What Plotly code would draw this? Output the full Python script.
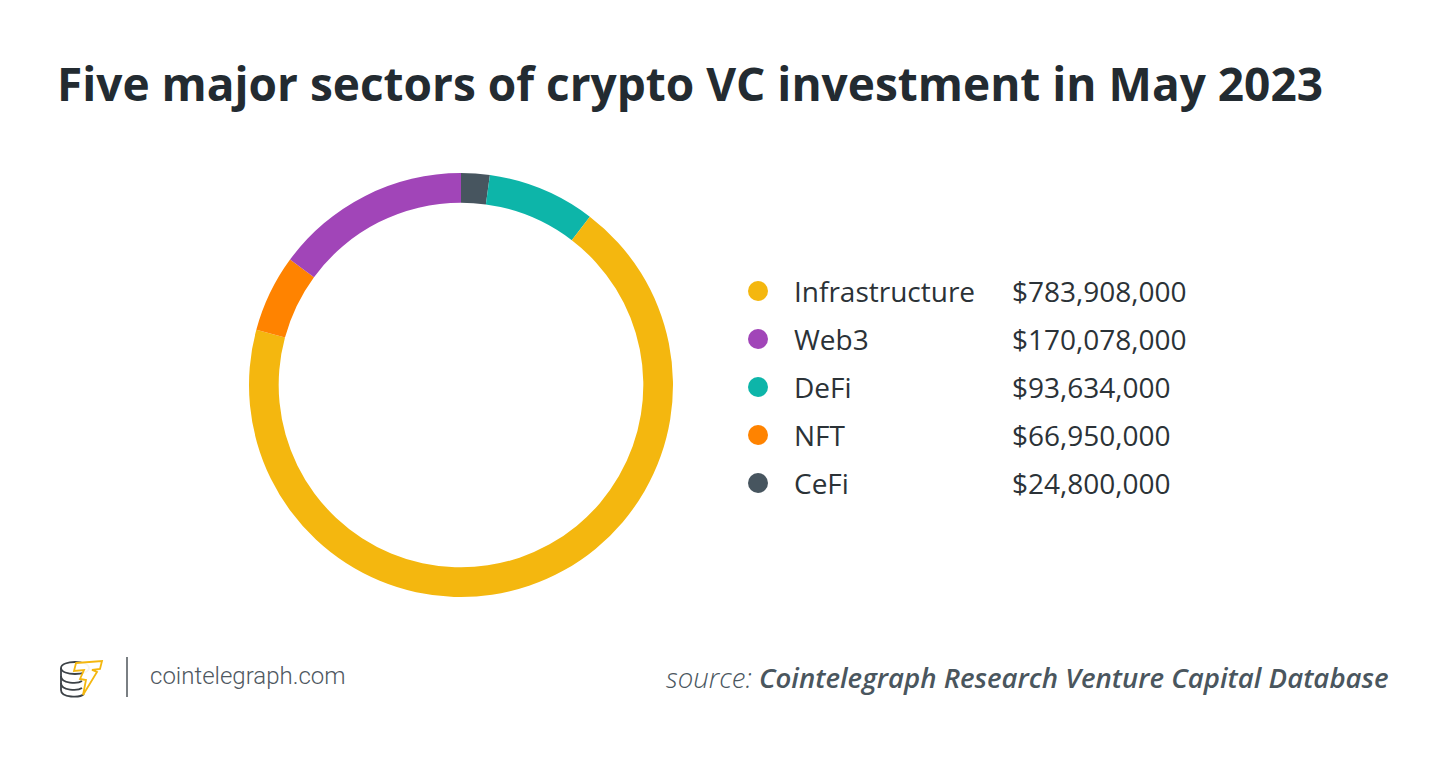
import plotly.graph_objects as go

W, H = 1450, 757

# slice order around the ring (clockwise from 12 o'clock)
ring_labels = ["CeFi", "DeFi", "Infrastructure", "NFT", "Web3"]
ring_values = [24800000, 93634000, 783908000, 66950000, 170078000]

# legend order
legend_labels = ["Infrastructure", "Web3", "DeFi", "NFT", "CeFi"]
legend_values = [783908000, 170078000, 93634000, 66950000, 24800000]

colors = {
    "Infrastructure": "#F4B70F",
    "Web3": "#A145B8",
    "DeFi": "#0DB5A9",
    "NFT": "#FF8300",
    "CeFi": "#47555F",
}

TEXT = "#2B3237"


def px_x(x):
    return x / W


def px_y(y):
    return 1 - y / H


fig = go.Figure()

fig.add_trace(go.Pie(
    labels=ring_labels,
    values=ring_values,
    hole=0.86,
    sort=False,
    direction="clockwise",
    rotation=0,
    marker=dict(colors=[colors[l] for l in ring_labels], line=dict(width=0)),
    textinfo="none",
    hoverinfo="label+value",
    showlegend=False,
    domain=dict(x=[px_x(249), px_x(673)], y=[px_y(597), px_y(173)]),
))

# legend dots
fig.add_trace(go.Scatter(
    x=[0] * len(legend_labels),
    y=legend_labels,
    mode="markers",
    marker=dict(size=20, color=[colors[l] for l in legend_labels]),
    hoverinfo="skip",
    showlegend=False,
))

annotations = []
for lab, val in zip(legend_labels, legend_values):
    annotations.append(dict(
        x=(792 - 758) / 692, y=lab, xref="x", yref="y",
        text=lab, showarrow=False, xanchor="left", yanchor="middle",
        font=dict(family="Open Sans", size=28, color=TEXT),
    ))
    annotations.append(dict(
        x=(1010 - 758) / 692, y=lab, xref="x", yref="y",
        text="${:,}".format(val), showarrow=False, xanchor="left", yanchor="middle",
        font=dict(family="Open Sans", size=28, color=TEXT),
    ))

annotations.append(dict(
    x=px_x(55), y=px_y(83), xref="paper", yref="paper",
    text="<b>Five major sectors of crypto VC investment in May 2023</b>",
    showarrow=False, xanchor="left", yanchor="middle",
    font=dict(family="Open Sans", size=46, color="#232B31"),
))
annotations.append(dict(
    x=px_x(148), y=px_y(676), xref="paper", yref="paper",
    text="<span style='font-weight:300'>cointelegraph.com</span>",
    showarrow=False, xanchor="left", yanchor="middle",
    font=dict(family="Roboto", size=24, color="#4F585F"),
))
annotations.append(dict(
    x=px_x(1391), y=px_y(677), xref="paper", yref="paper",
    text="<i><span style='font-weight:300'>source: </span>"
         "<span style='font-weight:600'>Cointelegraph Research Venture Capital Database</span></i>",
    showarrow=False, xanchor="right", yanchor="middle",
    font=dict(family="Open Sans", size=27.6, color="#4A565E"),
))

# footer logo and divider, drawn in pixel space of a hidden axis
shapes = [
    dict(type="line", xref="x2", yref="y2", x0=127, x1=127, y0=657, y1=697,
         line=dict(color="#7A7F83", width=2)),
    # coin stack
    dict(type="path", xref="x2", yref="y2",
         path="M 61 668 C 61 660, 89 660, 89 668 C 89 676, 61 676, 61 668 Z",
         line=dict(color="#3C4247", width=1.8)),
    dict(type="path", xref="x2", yref="y2",
         path="M 61 668 L 61 690 C 61 698, 80 698, 84 694",
         line=dict(color="#3C4247", width=1.8)),
    dict(type="path", xref="x2", yref="y2",
         path="M 61 676 C 61 684, 78 684, 82 681",
         line=dict(color="#3C4247", width=1.8)),
    dict(type="path", xref="x2", yref="y2",
         path="M 61 683 C 61 691, 78 691, 82 688",
         line=dict(color="#3C4247", width=1.8)),
    # lightning T
    dict(type="path", xref="x2", yref="y2",
         path="M 76 663 L 102 661 L 100 669 L 92 670 L 97 672 L 83 695 L 86 680 "
              "L 80 679 L 84 670 L 74 671 Z",
         fillcolor="rgba(255,255,255,0.95)", line=dict(color="#F4B70F", width=1.8)),
]

fig.update_layout(
    width=W, height=H,
    margin=dict(l=0, r=0, t=0, b=0),
    paper_bgcolor="white", plot_bgcolor="rgba(0,0,0,0)",
    xaxis=dict(domain=[px_x(758 - 20), 1], range=[-20 / 692, 1], visible=False, fixedrange=True),
    yaxis=dict(domain=[px_y(507), px_y(267)], type="category",
               categoryorder="array", categoryarray=legend_labels,
               range=[4.5, -0.5], visible=False, fixedrange=True),
    xaxis2=dict(domain=[0, 1], range=[0, W], anchor="y2", visible=False, fixedrange=True),
    yaxis2=dict(domain=[0, 1], range=[H, 0], anchor="x2", visible=False, fixedrange=True),
    annotations=annotations,
    shapes=shapes,
)

# invisible trace so the pixel axes exist
fig.add_trace(go.Scatter(x=[0], y=[0], xaxis="x2", yaxis="y2", mode="markers",
                         marker=dict(opacity=0), hoverinfo="skip", showlegend=False))

fig.write_html("out.html", config={"displayModeBar": False},
               post_script="document.body.style.margin='0';")
